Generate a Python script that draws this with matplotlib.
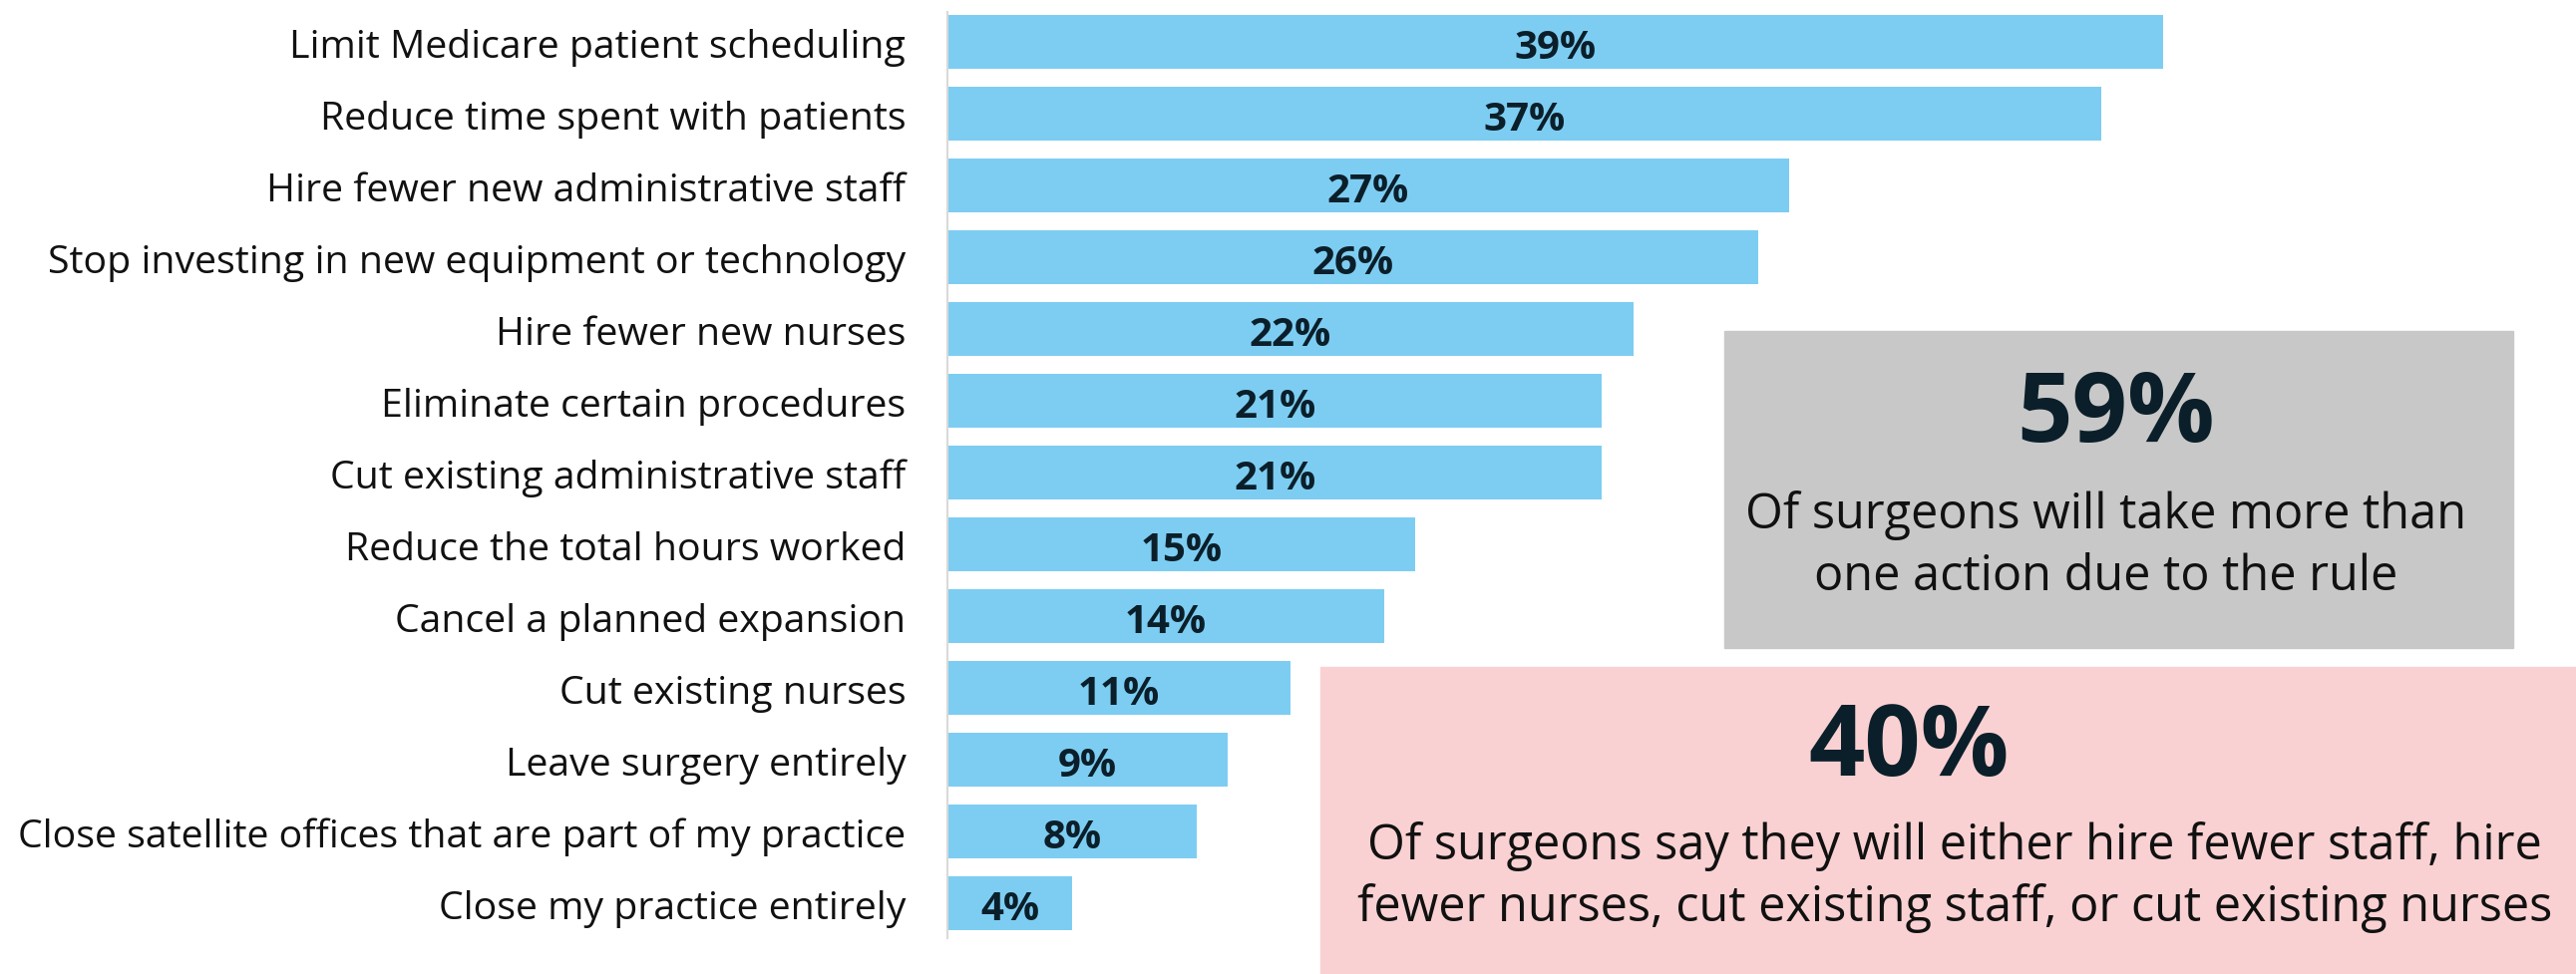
import matplotlib.pyplot as plt
from matplotlib.patches import Rectangle

plt.rcParams['font.family'] = ['Open Sans', 'DejaVu Sans']

actions = ['Limit Medicare patient scheduling',
           'Reduce time spent with patients',
           'Hire fewer new administrative staff',
           'Stop investing in new equipment or technology',
           'Hire fewer new nurses',
           'Eliminate certain procedures',
           'Cut existing administrative staff',
           'Reduce the total hours worked',
           'Cancel a planned expansion',
           'Cut existing nurses',
           'Leave surgery entirely',
           'Close satellite offices that are part of my practice',
           'Close my practice entirely']
shares = [39, 37, 27, 26, 22, 21, 21, 15, 14, 11, 9, 8, 4]

grey_stat = '59%'
grey_text = 'Of surgeons will take more than\none action due to the rule'
pink_stat = '40%'
pink_text = ('Of surgeons say they will either hire fewer staff, hire\n'
             'fewer nurses, cut existing staff, or cut existing nurses')

bar_color = '#7dcdf2'
dark = '#0b1f2a'

fig = plt.figure(figsize=(25.83, 9.78), dpi=100)
ax = fig.add_axes([0.3678, 0.0368, 0.6322, 0.9499])

ypos = list(range(len(actions)))
ax.barh(ypos, shares, height=0.75, color=bar_color)
for y, v in zip(ypos, shares):
    ax.text(v / 2, y + 0.07, f'{v}%', ha='center', va='center',
            fontsize=29, fontweight='bold', color=dark)

ax.set_xlim(0, 52.24)
ax.set_ylim(12.48, -0.42)
ax.set_yticks(ypos)
ax.set_yticklabels(actions, fontsize=28.3, color='#111111')
ax.tick_params(axis='y', length=0, pad=30)
ax.set_xticks([])
for s in ['top', 'right', 'bottom']:
    ax.spines[s].set_visible(False)
ax.spines['left'].set_color('#d9d9d9')
ax.spines['left'].set_linewidth(1.5)

# callout boxes
fig.patches.append(Rectangle((0.6694, 0.3344), 0.3062, 0.325,
                             transform=fig.transFigure, color='#c8c8c8', zorder=0))
fig.patches.append(Rectangle((0.5126, 0.0), 0.4874, 0.3149,
                             transform=fig.transFigure, color='#fad1d2', zorder=0))

fig.text(0.8213, 0.5736, grey_stat, ha='center', va='center',
         fontsize=70, fontweight='bold', color=dark)
fig.text(0.8175, 0.440, grey_text, ha='center', va='center',
         fontsize=35, color='#111111', linespacing=1.33)
fig.text(0.741, 0.2303, pink_stat, ha='center', va='center',
         fontsize=71, fontweight='bold', color=dark)
fig.text(0.7588, 0.1000, pink_text, ha='center', va='center',
         fontsize=35, color='#111111', linespacing=1.33)

fig.savefig('out.png', dpi=100)
